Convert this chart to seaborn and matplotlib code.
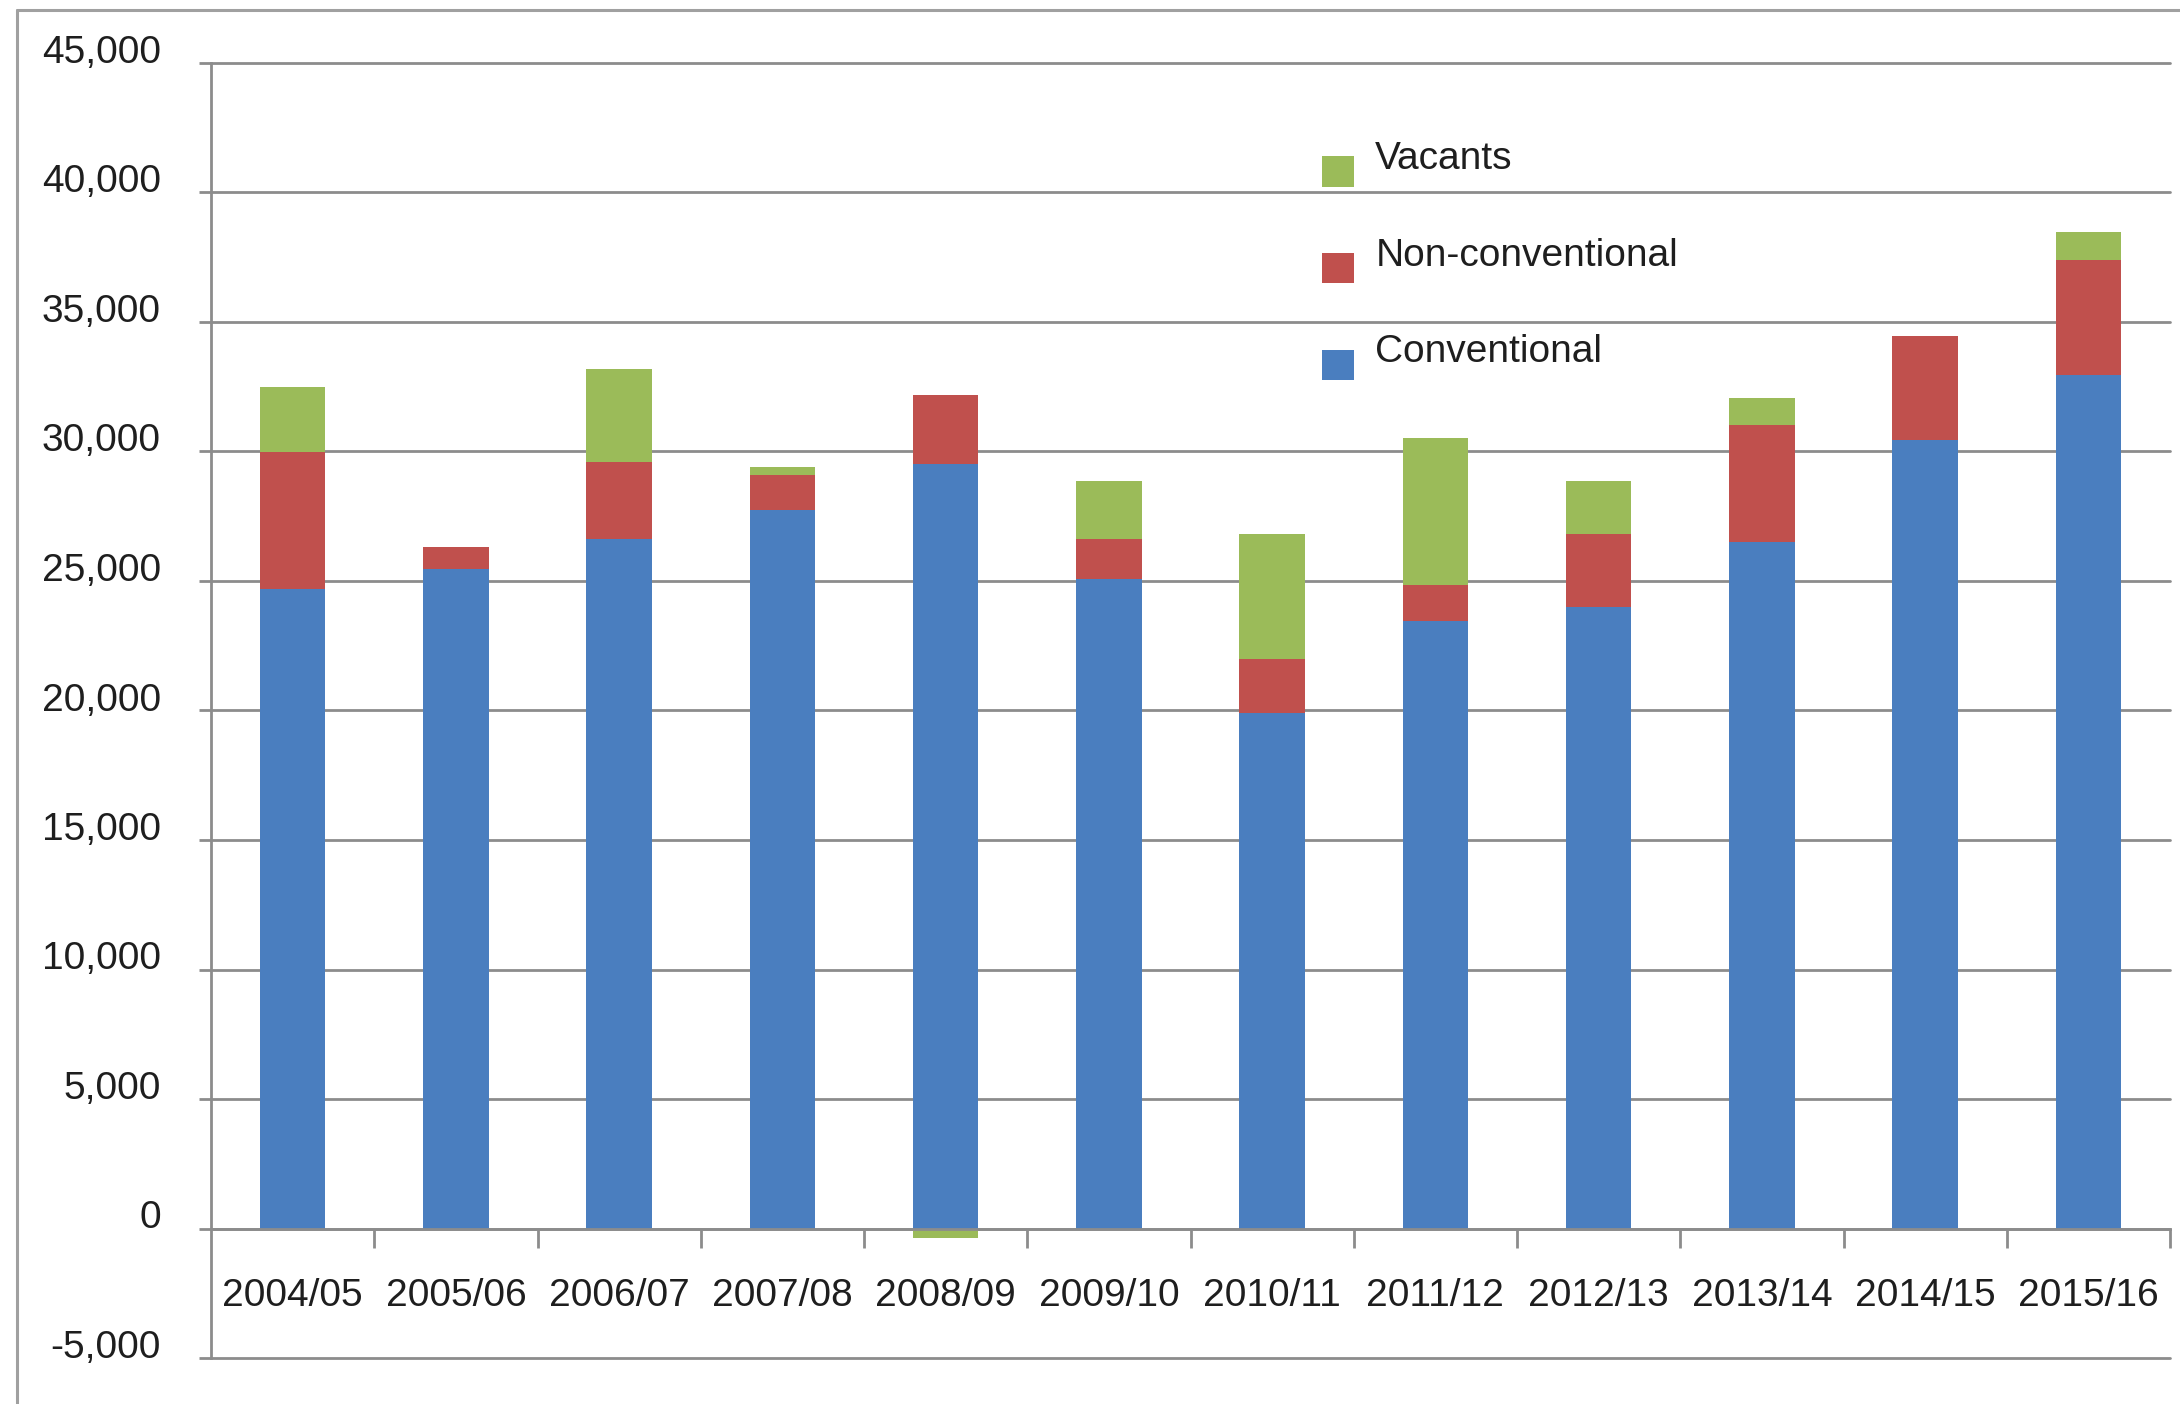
import numpy as np
import pandas as pd
import matplotlib
matplotlib.use("Agg")
import matplotlib.pyplot as plt
from matplotlib.ticker import FixedLocator, FuncFormatter, MultipleLocator
from matplotlib.transforms import ScaledTranslation
from matplotlib.lines import Line2D
from matplotlib.patches import Rectangle
from matplotlib.container import BarContainer
from matplotlib.legend_handler import HandlerPatch, update_from_first_child
import seaborn as sns

# Housing supply by financial year
years = ["2004/05", "2005/06", "2006/07", "2007/08", "2008/09", "2009/10",
         "2010/11", "2011/12", "2012/13", "2013/14", "2014/15", "2015/16"]
conventional = [24700, 25480, 26630, 27730, 29500, 25090,
                19910, 23470, 24000, 26500, 30460, 32950]
non_conventional = [5300, 820, 2970, 1380, 2670, 1540,
                    2060, 1390, 2820, 4540, 3990, 4460]
vacants = [2500, 0, 3600, 300, -350, 2250,
           4850, 5670, 2060, 1020, 0, 1060]

BLUE = "#4A7EBF"
RED = "#C0504D"
GREEN = "#9BBB59"
GRID = "#8C8C8C"
TEXT = "#1E1E1E"

sns.set_theme(style="white")
plt.rcParams["font.family"] = ["Liberation Sans", "DejaVu Sans"]

df = pd.DataFrame({
    "year": years,
    "conventional": conventional,
    "non_conventional": non_conventional,
    "vacants": vacants,
})
conv = df["conventional"].to_numpy()
non = df["non_conventional"].to_numpy()
vac = df["vacants"].to_numpy()

W, H = 2180, 1404
fig = plt.figure(figsize=(W / 100, H / 100), dpi=100)
ax = fig.add_axes([211 / W, 1 - 1358 / H, (2170 - 211) / W, (1358 - 63) / H])

common = dict(data=df, x="year", order=years, saturation=1, width=0.4,
              linewidth=0, errorbar=None, ax=ax)
sns.barplot(y="conventional", color=BLUE, label="Conventional", **common)
sns.barplot(y="non_conventional", color=RED, label="Non-conventional",
            bottom=conv, **common)
# negative vacancy counts hang below the zero line
sns.barplot(y="vacants", color=GREEN, label="Vacants",
            bottom=np.where(vac >= 0, conv + non, 0), **common)

ax.set_xlim(-0.5, len(years) - 0.5)
ax.set_ylim(-5000, 45000)
ax.set_xlabel("")
ax.set_ylabel("")

ax.yaxis.set_major_locator(MultipleLocator(5000))
ax.yaxis.set_major_formatter(FuncFormatter(lambda v, p: f"{v:,.0f}"))
ax.grid(axis="y", color=GRID, linewidth=2.0)
ax.grid(axis="x", visible=False)
ax.set_axisbelow(True)
for gl in ax.get_ygridlines():
    gl.set_clip_on(False)

for s in ["top", "right"]:
    ax.spines[s].set_visible(False)
ax.spines["bottom"].set_position(("data", 0))
ax.spines["bottom"].set_color(GRID)
ax.spines["bottom"].set_linewidth(2.0)
ax.spines["left"].set_color(GRID)
ax.spines["left"].set_linewidth(2.0)

ax.xaxis.set_minor_locator(FixedLocator(np.arange(0.5, len(years), 1)))
ax.tick_params(axis="x", which="major", bottom=True, length=0, pad=36,
               labelsize=28, labelcolor=TEXT)
ax.tick_params(axis="x", which="minor", bottom=True, length=14, width=2,
               color=GRID, direction="out")
ax.tick_params(axis="y", which="major", left=True, length=9, width=2,
               color=GRID, direction="out", pad=27, labelsize=28,
               labelcolor=TEXT)

# y labels sit slightly above their gridlines
lift = ScaledTranslation(0, 0.14, fig.dpi_scale_trans)
for lab in ax.get_yticklabels():
    lab.set_transform(lab.get_transform() + lift)


class LoweredSquare(HandlerPatch):
    def create_artists(self, legend, orig_handle, xdescent, ydescent,
                       width, height, fontsize, trans):
        p = Rectangle((-xdescent, -ydescent - 0.42 * fontsize), width, height)
        self.update_prop(p, orig_handle, legend)
        p.set_transform(trans)
        return [p]


handles, labels = ax.get_legend_handles_labels()
ax.legend(handles[::-1], labels[::-1], loc="upper left",
          bbox_to_anchor=((1322 - 211) / 1959, 1 - (140 - 63) / 1295),
          frameon=False, fontsize=28, handlelength=0.82, handleheight=0.82,
          handletextpad=0.55, labelspacing=1.55, borderpad=0, borderaxespad=0,
          labelcolor=TEXT,
          handler_map={BarContainer: LoweredSquare(update_func=update_from_first_child)})

# frame around the chart area
bx, by = 17 / W, 1 - 10 / H
fig.add_artist(Line2D([bx, bx], [0, by], transform=fig.transFigure,
                      color="#A0A0A0", linewidth=2.2))
fig.add_artist(Line2D([bx, 1], [by, by], transform=fig.transFigure,
                      color="#A0A0A0", linewidth=2.2))

fig.savefig("out.png", dpi=100, facecolor="white")
